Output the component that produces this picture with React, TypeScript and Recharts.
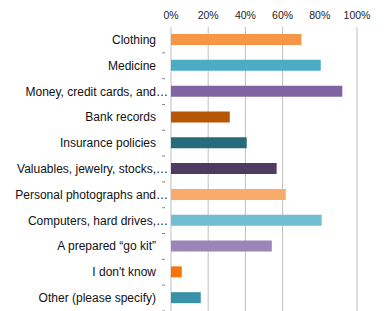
import { BarChart, Bar, XAxis, YAxis, CartesianGrid, Cell } from 'recharts';

const categories = [
  'Clothing',
  'Medicine',
  'Money, credit cards, and…',
  'Bank records',
  'Insurance policies',
  'Valuables, jewelry, stocks,…',
  'Personal photographs and…',
  'Computers, hard drives,…',
  'A prepared “go kit”',
  "I don't know",
  'Other (please specify)',
];

const values = [70.1, 80.5, 92.1, 31.6, 40.7, 56.8, 61.7, 81, 54.2, 5.8, 16];

const colors = [
  '#F79646',
  '#4BACC6',
  '#8064A2',
  '#B65708',
  '#276A7C',
  '#4D3B62',
  '#F9AB6B',
  '#71BDD2',
  '#9C86B7',
  '#F5750B',
  '#3891A7',
];

const xTicks = [0, 20, 40, 60, 80, 100];

const data = categories.map((name, i) => ({ name, value: values[i] }));

const FONT = '"Liberation Sans", Arial, sans-serif';

// category label, right aligned; a trailing ellipsis hangs past the edge like the source
function CategoryTick(props: any) {
  const { x, y, payload, height, visibleTicksCount } = props;
  const band = height / visibleTicksCount;
  const label: string = payload.value;
  const cut = label.endsWith('…');
  const main = cut ? label.slice(0, -1) : label;
  return (
    <g>
      <text x={x} y={y} dy={4} textAnchor="end" fontSize={12} fontFamily={FONT} fill="#111">
        {main}
      </text>
      {cut && (
        <text x={x} y={y} dy={4} textAnchor="start" fontSize={12} fontFamily={FONT} fill="#111">
          …
        </text>
      )}
      <line x1={x + 6} x2={x + 9} y1={y + band / 2} y2={y + band / 2} stroke="#868686" />
    </g>
  );
}

export default function App() {
  return (
    <div style={{ position: 'absolute', left: 0, top: 0 }}>
      <BarChart
        width={384}
        height={311}
        data={data}
        layout="vertical"
        margin={{ top: 0, right: 27, bottom: 0, left: 0 }}
      >
        <CartesianGrid horizontal={false} stroke="#BFBFBF" />
        <XAxis
          type="number"
          orientation="top"
          domain={[0, 100]}
          ticks={xTicks}
          tickFormatter={(v) => `${v}%`}
          axisLine={false}
          tickLine={false}
          height={27}
          tick={{ fontSize: 10.5, fontFamily: FONT, fill: '#222' }}
        />
        <YAxis
          type="category"
          dataKey="name"
          width={171}
          axisLine={false}
          tickLine={false}
          tickMargin={9}
          interval={0}
          tick={<CategoryTick />}
        />
        <Bar dataKey="value" barSize={11} isAnimationActive={false}>
          {data.map((d, i) => (
            <Cell key={d.name} fill={colors[i]} />
          ))}
        </Bar>
      </BarChart>
    </div>
  );
}
